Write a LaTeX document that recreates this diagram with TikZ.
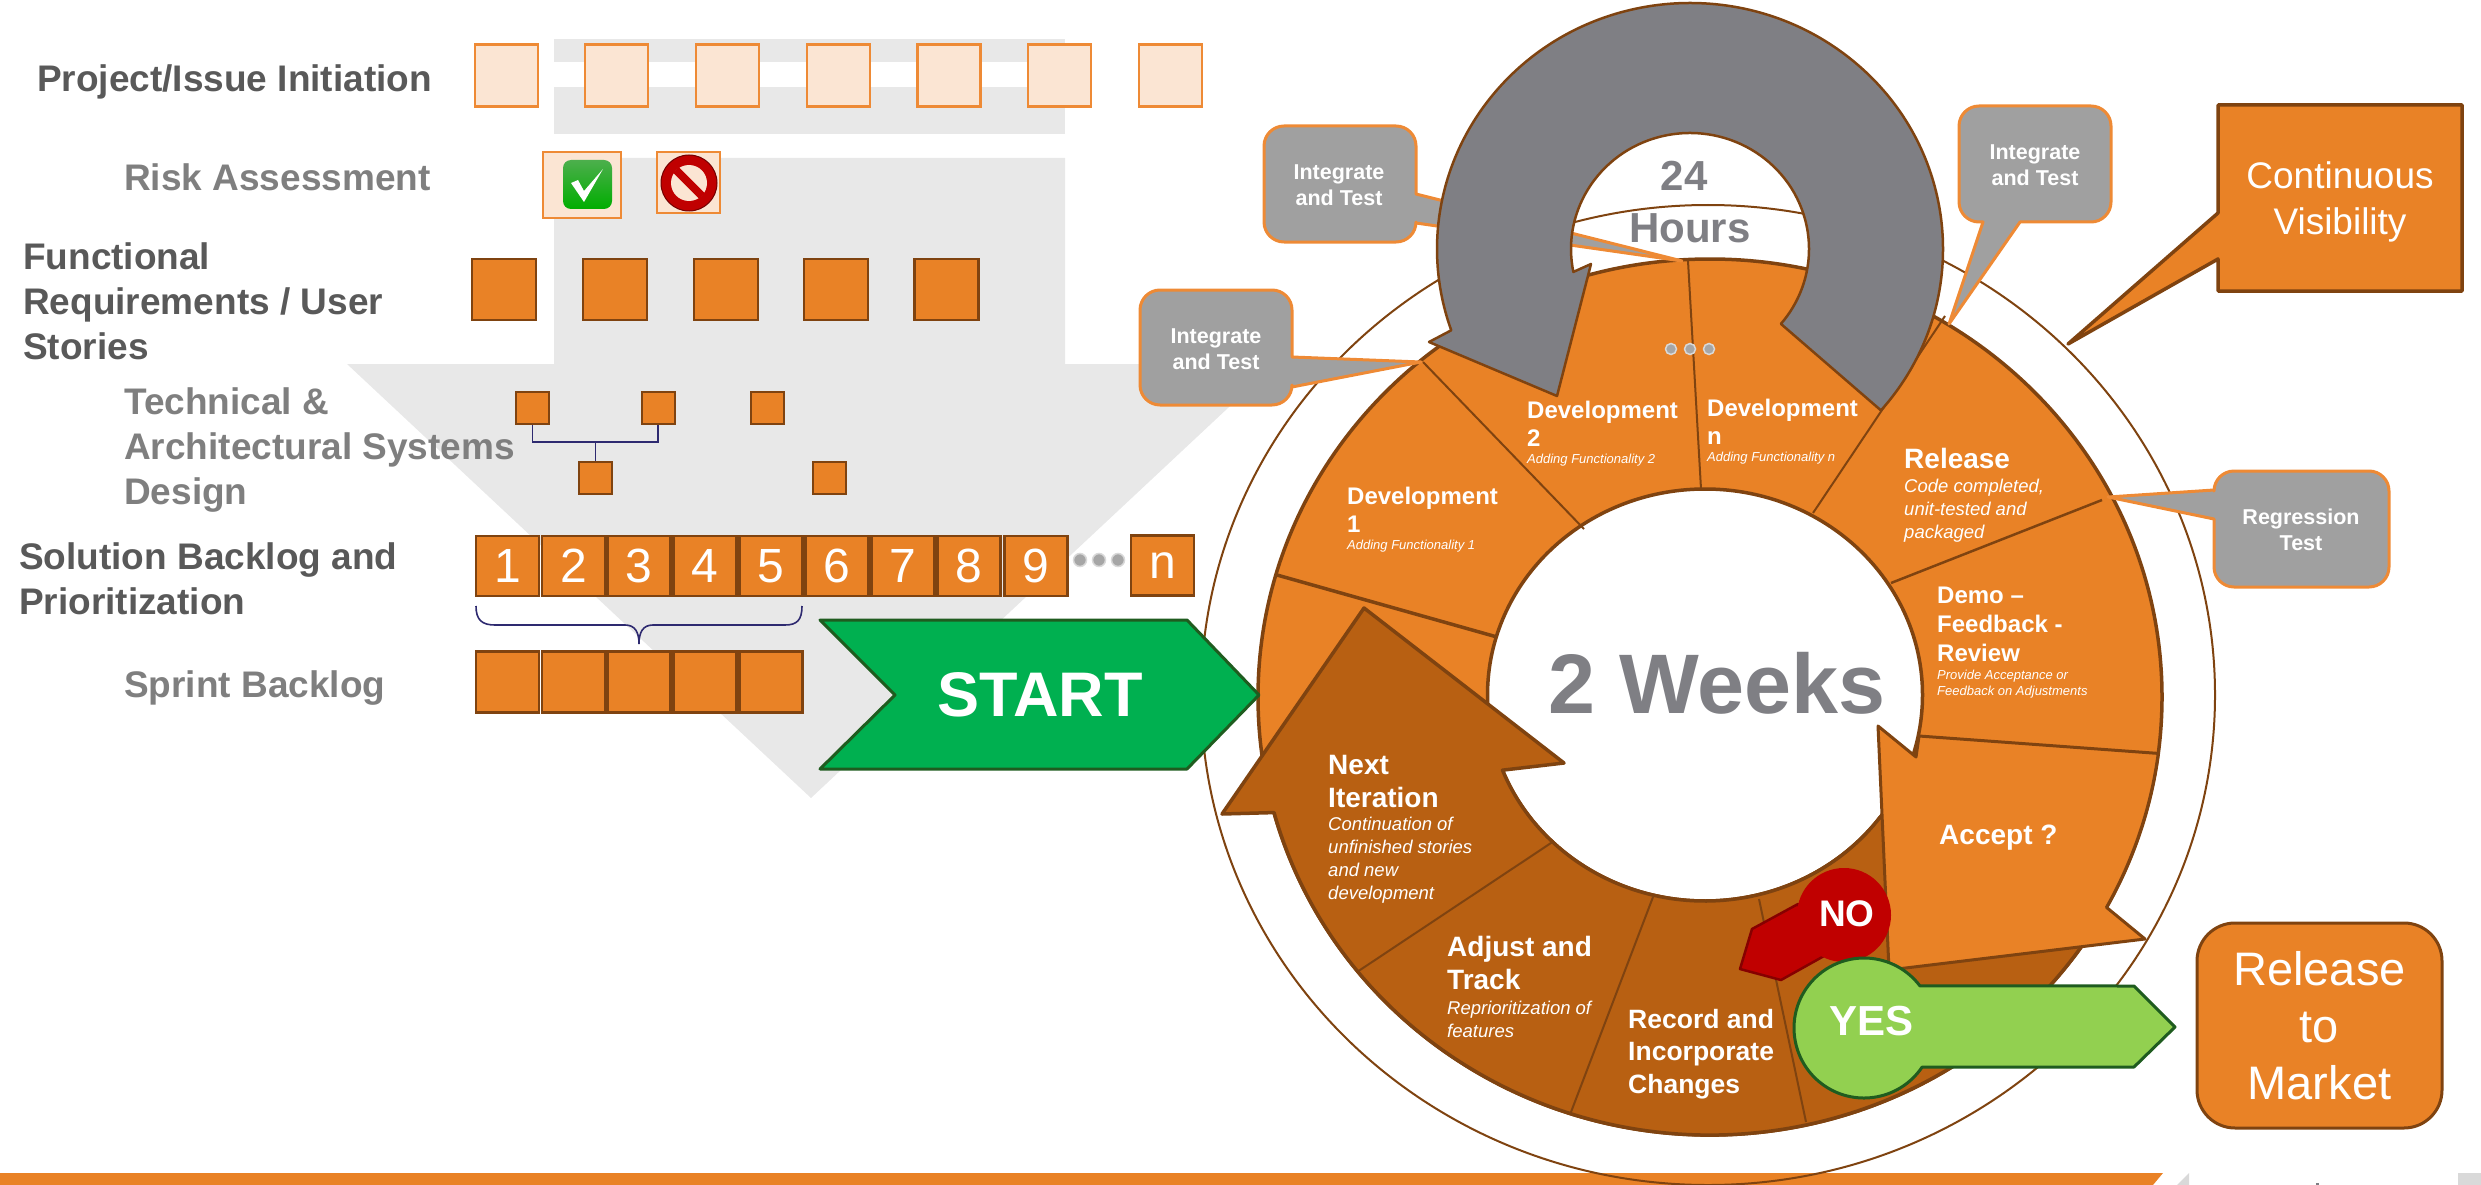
\documentclass[tikz,border=0pt]{standalone}
\usepackage{fontspec}
\setmainfont{Liberation Sans}
\definecolor{orF}{HTML}{E98226}
\definecolor{orL}{HTML}{EE8A35}
\definecolor{brF}{HTML}{B86012}
\definecolor{brL}{HTML}{7F4310}
\definecolor{paleF}{HTML}{FBE5D3}
\definecolor{bgG}{HTML}{E8E8E8}
\definecolor{calG}{HTML}{A0A0A0}
\definecolor{arG}{HTML}{7F7F84}
\definecolor{dkT}{HTML}{595959}
\definecolor{ltT}{HTML}{7F7F7F}
\definecolor{navyL}{HTML}{2E2A70}
\definecolor{stG}{HTML}{00B050}
\definecolor{yesG}{HTML}{92D050}
\definecolor{dkG}{HTML}{1F5C1F}
\definecolor{redF}{HTML}{C00000}
\tikzset{
 pale/.style={draw=orL,fill=paleF,line width=2.5pt,minimum width=63pt,minimum height=62pt,inner sep=0},
 fbox/.style={draw=brL,fill=orF,line width=2.5pt,minimum width=64pt,minimum height=61pt,inner sep=0},
 sbox/.style={draw=brL,fill=orF,line width=2pt,minimum width=33pt,minimum height=32pt,inner sep=0},
 nbox/.style={draw=brL,fill=orF,line width=2.5pt,minimum width=63pt,minimum height=60pt,inner sep=0,text=white,font=\fontsize{48}{50}\selectfont},
 ltitle/.style={anchor=west,align=left,inner sep=0,text=dkT,font=\fontsize{37}{45}\selectfont\bfseries},
 lsub/.style={ltitle,text=ltT},
 segT/.style={anchor=west,align=left,inner sep=0,text=white,font=\fontsize{24}{28.5}\selectfont\bfseries},
 segB/.style={anchor=west,align=left,inner sep=0,text=white,font=\fontsize{28}{33}\selectfont\bfseries},
 segI/.style={anchor=west,align=left,inner sep=0,text=white,font=\fontsize{18.5}{23}\selectfont\itshape},
 segS/.style={anchor=west,align=left,inner sep=0,text=white,font=\fontsize{13}{16}\selectfont\itshape},
 calT/.style={align=center,inner sep=0,text=white,font=\fontsize{21.5}{25.7}\selectfont\bfseries},
 callout/.style={draw=orL,fill=calG,line width=3pt,line join=round},
 ring/.style={draw=brL,line width=3.5pt,line join=round},
 divide/.style={draw=brL,line width=2pt},
 conn/.style={draw=navyL,line width=1.6pt},
 gdot/.style={circle,fill=black!35,draw=black!15,line width=1.5pt,minimum size=13pt,inner sep=0},
}
\begin{document}
\begin{tikzpicture}[x=1pt,y=1pt,yscale=-1]
\useasboundingbox (0,0) rectangle (2481,1185);
% background arrow
\fill[bgG] (554,39) rectangle (1065,62);
\fill[bgG] (554,87) rectangle (1065,134);
\fill[bgG] (554,158)--(1065,158)--(1065,364)--(1275,364)--(811,798)--(347,364)--(554,364)--cycle;
% bottom band
\fill[orF] (0,1173)--(2163,1173)--(2153,1185)--(0,1185)--cycle;
\fill[black!15] (2189,1173)--(2189,1185)--(2177,1185)--cycle;
\fill[black!15] (2458,1173) rectangle (2481,1185);
\fill[arG] (2316,1183) rectangle (2319,1185);
% thin ellipse
\draw[brL,line width=2pt] (1708,695) ellipse[x radius=507,y radius=490];
% ring
\path[ring,fill=orF,even odd rule] (1710,697) ellipse[x radius=452,y radius=438] (1705,695) ellipse[x radius=217.5,y radius=206];
% dividers in orange part
\coordinate (d1a) at (1688,261); \coordinate (d1b) at (1701,489);
\coordinate (d2a) at (1423,362); \coordinate (d2b) at (1584,529);
\coordinate (d3a) at (1945,316); \coordinate (d3b) at (1813,513);
\coordinate (d4a) at (2102,500); \coordinate (d4b) at (1891,583);
\coordinate (d5a) at (1277,575); \coordinate (d5b) at (1497,637);
\draw[divide] (d1a)--(d1b);
\draw[divide] (d2a)--(d2b);
\draw[divide] (d3a)--(d3b);
\draw[divide,line width=2.5pt] (d4a)--(d4b);
\draw[divide,line width=3.5pt] (d5a)--(d5b);
% brown next-iteration arrow
\draw[ring,fill=brF] ([shift={(1710,697)}]164.7:452 and 438) arc[start angle=164.7,end angle=34.9,x radius=452,y radius=438] -- ([shift={(1705,695)}]36.3:217.5 and 206) arc[start angle=36.3,end angle=158.6,x radius=217.5,y radius=206] -- (1564,763) -- (1364,608) -- (1222,814) -- cycle;
\coordinate (d6a) at (1554,841); \coordinate (d6b) at (1357,972);
\coordinate (d7a) at (1653,897); \coordinate (d7b) at (1571,1112);
\coordinate (d8a) at (1759,899); \coordinate (d8b) at (1806,1122);
\draw[divide] (d6a)--(d6b);
\draw[divide] (d7a)--(d7b);
\draw[divide] (d8a)--(d8b);
% accept arrow
\draw[ring,line width=3pt,fill=orF] ([shift={(1710,697)}]7.4:452 and 438) arc[start angle=7.4,end angle=28.7,x radius=452,y radius=438] -- (2145,939) -- (1889,970) -- (1878,726) -- (1916,757) -- (1919,736) -- cycle;
% callouts
\draw[callout] (1416,223) [rounded corners=20pt] -- (1416,242) -- (1264,242) -- (1264,126) -- (1416,126) [sharp corners] -- (1416,194) -- (1682,261) -- cycle;
\draw[callout] (1292,387) [rounded corners=20pt] -- (1292,405) -- (1140,405) -- (1140,290) -- (1292,290) [sharp corners] -- (1292,357) -- (1421,362) -- cycle;
\draw[callout] (2020,222) [rounded corners=20pt] -- (2111,222) -- (2111,106) -- (1959,106) -- (1959,222) [sharp corners] -- (1983,222) -- (1949,324) -- cycle;
\draw[callout] (2214,519) [rounded corners=20pt] -- (2214,587) -- (2389,587) -- (2389,471) -- (2214,471) [sharp corners] -- (2214,490) -- (2108,497) -- cycle;
% gray 24h arrow
\draw[brL,fill=arG,line width=2.5pt,line join=round] ([shift={(1690,249)}]41:253 and 246) arc[start angle=41,end angle=-199.3,x radius=253,y radius=246] -- (1429,342) -- (1557,396) -- (1591,264) -- ([shift={(1690,249)}]168.6:119 and 116) arc[start angle=168.6,end angle=400.2,x radius=119,y radius=116] -- cycle;
% continuous visibility callout
\draw[ring,fill=orF] (2218,213) -- (2218,105) -- (2462,105) -- (2462,291) -- (2218,291) -- (2218,259) -- (2068,344) -- cycle;
% left column labels
\node[ltitle] (l1) at (37,82) {Project/Issue Initiation};
\node[lsub] (l2) at (124,177) {Risk Assessment};
\node[ltitle] (l3) at (23,301) {Functional\\Requirements / User\\Stories};
\node[lsub] (l4) at (124,450) {Technical \&\\Architectural Systems\\Design};
\node[ltitle] (l5) at (19,579) {Solution Backlog and\\Prioritization};
\node[lsub] (l6) at (124,688) {Sprint Backlog};
% pale boxes
\foreach \n/\x in {a/506.5,b/616.5,c/727.5,d/838.5,e/949,f/1059.5,g/1170.5}{\node[pale] (p\n) at (\x,75.5) {};}
\node[pale,minimum width=78pt,minimum height=66pt] (chk) at (582,185) {};
\node[pale,minimum height=61pt] (stp) at (688.5,182.5) {};
\shade[top color=green!55!black!70!white,bottom color=green!68!black,rounded corners=8pt] (563,160) rectangle (612,209);
\fill[white] (571,183)--(578,180)--(584,191)--(603,169)--(584,202)--cycle;
\fill[redF] (689,183) circle[radius=28];
\draw[black!55!red,line width=1pt] (689,183) circle[radius=28];
\fill[paleF] (689,183) circle[radius=18];
\draw[redF,line width=8pt] (676,170)--(702,196);
% functional boxes
\foreach \n/\x in {a/504,b/615,c/726,d/836,e/946.5}{\node[fbox] (f\n) at (\x,289.5) {};}
% small boxes
\node[sbox] (s1) at (532.5,408) {};
\node[sbox] (s2) at (658,408) {};
\node[sbox] (s3) at (767,408) {};
\node[sbox] (s4) at (595.5,477.5) {};
\node[sbox] (s5) at (829,477.5) {};
\coordinate (j) at (595.5,442);
\draw[conn] (s1.south) -- (s1.south |- j) -- (s2.south |- j) -- (s2.south);
\draw[conn] (j) -- (s4.north);
% numbered
\foreach \t/\x in {1/507.5,2/573.5,3/639,4/705,5/771,6/837,7/903,8/969,9/1036}{\node[nbox] (n\t) at (\x,566) {\t};}
\node[nbox] (nn) at (1162.5,565.5) {n};
\node[gdot] (g1) at (1080,560) {};
\node[gdot] (g2) at (1099,560) {};
\node[gdot] (g3) at (1118,560) {};
% brace
\coordinate (bl) at (476,606); \coordinate (bt) at (639,644); \coordinate (br) at (802,606);
\draw[conn] (bl) .. controls (476,620) and (482,625) .. (495,625) -- (625,625) .. controls (635,625) and (639,632) .. (bt) .. controls (639,632) and (643,625) .. (653,625) -- (785,625) .. controls (797,625) and (802,620) .. (br);
% sprint boxes
\foreach \n/\x in {a/507.5,b/573.5,c/639,d/705,e/771}{\node[fbox,minimum width=63pt,minimum height=61pt] (b\n) at (\x,682) {};}
% start
\draw[draw=dkG,fill=stG,line width=3pt,line join=round] (820,620)--(1187,620)--(1259,695)--(1187,769)--(820,769)--(895,695)--cycle;
\node[inner sep=0,text=white,font=\fontsize{63}{70}\selectfont\bfseries] (st) at (1040,695) {START};
% dots on ring
\node[gdot,minimum size=11pt] (h1) at (1671,349) {};
\node[gdot,minimum size=11pt] (h2) at (1690,349) {};
\node[gdot,minimum size=11pt] (h3) at (1709,349) {};
% callout text
\node[calT] (c1) at (1339,185) {Integrate\\and Test};
\node[calT] (c2) at (1216,349) {Integrate\\and Test};
\node[calT] (c3) at (2035,165) {Integrate\\and Test};
\node[calT] (c4) at (2301,530) {Regression\\Test};
\node[align=center,inner sep=0,text=white,font=\fontsize{37}{46}\selectfont] (cv) at (2340,202) {Continuous\\Visibility};
% center texts
\node[inner sep=0,text=arG,font=\fontsize{42}{46}\selectfont\bfseries] (h24) at (1684,176) {24};
\node[inner sep=0,text=arG,font=\fontsize{42}{46}\selectfont\bfseries] (hrs) at (1690,228) {Hours};
\node[inner sep=0,text=arG,font=\fontsize{84.5}{90}\selectfont\bfseries] (wk) at (1717,683) {2 Weeks};
% segment texts
\node[segT] (t1) at (1347,510) {Development\\1};
\node[segS] (t1s) at (1347,546) {Adding Functionality 1};
\node[segT] (t2) at (1527,424) {Development\\2};
\node[segS] (t2s) at (1527,460) {Adding Functionality 2};
\node[segT] (t3) at (1707,422) {Development\\n};
\node[segS] (t3s) at (1707,458) {Adding Functionality n};
\node[segB] (t4) at (1904,458) {Release};
\node[segI] (t4s) at (1904,511) {Code completed,\\unit-tested and\\packaged};
\node[segT,font=\fontsize{24}{29}\selectfont\bfseries] (t5) at (1937,624) {Demo --\\Feedback -\\Review};
\node[segS] (t5s) at (1937,684) {Provide Acceptance or\\Feedback on Adjustments};
\node[segB] (t6) at (1939,838) {Accept ?};
\node[segB] (t7) at (1328,781) {Next\\Iteration};
\node[segI] (t7s) at (1328,860) {Continuation of\\unfinished stories\\and new\\development};
\node[segB] (t8) at (1447,963) {Adjust and\\Track};
\node[segI] (t8s) at (1447,1019) {Reprioritization of\\features};
\node[segB,font=\fontsize{26.5}{32.5}\selectfont\bfseries] (t9) at (1628,1054) {Record and\\Incorporate\\Changes};
% NO
\draw[draw=redF!70!black,fill=redF,line width=2.5pt,line join=round] (1798,904)--(1752,929)--(1740,969)--(1781,980)--(1824,956)--cycle;
\node[circle,fill=redF,inner sep=0,minimum size=94pt] (nc) at (1844,915) {};
\node[inner sep=0,text=white,font=\fontsize{37}{40}\selectfont\bfseries] (not) at (1847,914) {NO};
% YES
\draw[draw=dkG,fill=yesG,line width=3pt,line join=round] ([shift={(1864,1028)}]-37:70 and 70) -- (2134,986) -- (2175,1027) -- (2134,1067) -- ([shift={(1864,1028)}]34:70 and 70) arc[start angle=34,end angle=323,x radius=70,y radius=70] -- cycle;
\node[inner sep=0,text=white,font=\fontsize{42}{46}\selectfont\bfseries] (yes) at (1871,1021) {YES};
% release to market
\node[draw=brL,fill=orF,line width=3pt,rounded corners=38pt,minimum width=245pt,minimum height=205pt,align=center,text=white,inner sep=0,font=\fontsize{47}{57}\selectfont] (rm) at (2319.5,1025.5) {Release\\to\\Market};
\end{tikzpicture}
\end{document}
